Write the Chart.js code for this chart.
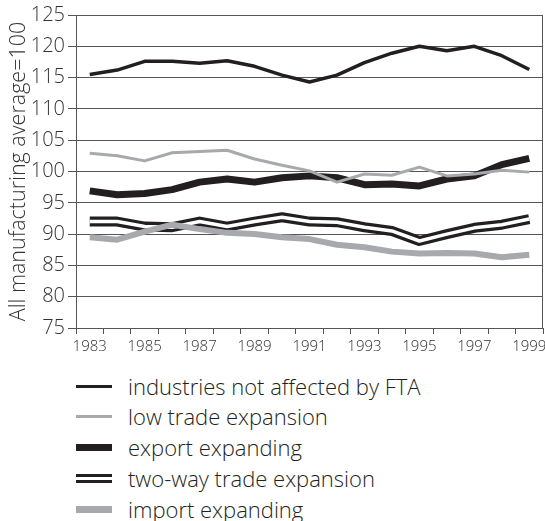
<!DOCTYPE html>
<html>
<head>
<meta charset="utf-8">
<script src="https://cdn.jsdelivr.net/npm/chart.js@4"></script>
<style>
  html, body { margin: 0; padding: 0; background: #fff; }
  #wrap { position: relative; width: 545px; height: 521px; font-family: "Open Sans", sans-serif; font-weight: 300; color: #231f20; }
  #chartBox { position: absolute; left: 0; top: 0; width: 545px; height: 365px; }
  .row { position: absolute; left: 76px; height: 30px; }
  .swatch { position: absolute; left: 0; width: 36px; }
  .label { position: absolute; left: 52px; top: 0; font-size: 22px; line-height: 30px; white-space: nowrap; }
</style>
</head>
<body>
<div id="wrap">
  <div id="chartBox"><canvas id="tradeChart"></canvas></div>
  <div id="legend"></div>
</div>
<script>
'use strict';

const years = ['1983', '1984', '1985', '1986', '1987', '1988', '1989', '1990', '1991',
  '1992', '1993', '1994', '1995', '1996', '1997', '1998', '1999'];

const notAffected = [115.5, 116.2, 117.6, 117.6, 117.3, 117.7, 116.8, 115.4, 114.3,
  115.4, 117.4, 118.9, 120.0, 119.3, 120.0, 118.5, 116.3];
const lowTrade = [102.9, 102.5, 101.7, 103.0, 103.2, 103.4, 102.0, 101.0, 100.1,
  98.3, 99.6, 99.4, 100.7, 99.3, 99.6, 100.2, 99.9];
const exportExpanding = [96.9, 96.3, 96.5, 97.1, 98.3, 98.8, 98.3, 99.0, 99.3,
  99.0, 97.9, 98.0, 97.7, 98.8, 99.3, 101.1, 102.1];
const twoWay = [92.0, 92.0, 91.2, 91.1, 92.0, 91.2, 92.0, 92.7, 92.0,
  91.9, 91.1, 90.5, 88.9, 90.0, 91.0, 91.5, 92.4];
const importExpanding = [89.5, 89.1, 90.4, 91.5, 90.8, 90.2, 90.0, 89.5, 89.2,
  88.3, 87.9, 87.2, 86.9, 87.0, 86.9, 86.3, 86.7];

const yTicks = [75, 80, 85, 90, 95, 100, 105, 110, 115, 120, 125];
const yTitle = 'All manufacturing average=100';

const BLACK = '#231f20';
const GRAY = '#a7a9ac';
const FONT = 'Open Sans';

const legendItems = [
  { text: 'industries not affected by FTA', color: BLACK, width: 3 },
  { text: 'low trade expansion', color: GRAY, width: 3 },
  { text: 'export expanding', color: BLACK, width: 7 },
  { text: 'two-way trade expansion', color: BLACK, width: 9, double: true },
  { text: 'import expanding', color: GRAY, width: 7 }
];

function lineSet(data, color, width) {
  return {
    data: data,
    borderColor: color,
    borderWidth: width,
    pointRadius: 0,
    tension: 0,
    fill: false,
    borderCapStyle: 'butt',
    borderJoinStyle: 'round'
  };
}

// box round the plot area (top and right sides included)
const frame = {
  id: 'frame',
  afterDraw(chart) {
    const a = chart.chartArea;
    const ctx = chart.ctx;
    ctx.save();
    ctx.strokeStyle = '#555';
    ctx.lineWidth = 1;
    ctx.strokeRect(Math.round(a.left) + 0.5, Math.round(a.top) + 0.5,
      Math.round(a.right - a.left) - 1, Math.round(a.bottom - a.top));
    ctx.restore();
  }
};

function renderChart() {
  const ctx = document.getElementById('tradeChart').getContext('2d');
  new Chart(ctx, {
    type: 'line',
    data: {
      labels: years,
      datasets: [
        lineSet(importExpanding, GRAY, 6),
        lineSet(lowTrade, GRAY, 3),
        lineSet(notAffected, BLACK, 3.5),
        lineSet(twoWay, '#fff', 3.5),
        lineSet(twoWay, BLACK, 10),
        lineSet(exportExpanding, BLACK, 7)
      ]
    },
    options: {
      responsive: true,
      maintainAspectRatio: false,
      animation: false,
      layout: { padding: { top: 15, right: 2, left: 0, bottom: 0 } },
      plugins: { legend: { display: false }, tooltip: { enabled: false } },
      scales: {
        x: {
          offset: true,
          grid: { offset: true, drawOnChartArea: false, drawTicks: true, tickLength: 6, color: '#555' },
          border: { color: '#555' },
          ticks: {
            autoSkip: false,
            maxRotation: 0,
            padding: 4,
            color: '#333',
            font: { family: FONT, size: 15, weight: 300 },
            callback: function(val, i) { return i % 2 === 0 ? years[i] : ''; }
          },
          afterFit: function(s) {
            s.height = 37;
            s.paddingLeft = 0;
            s.paddingRight = 0;
          }
        },
        y: {
          min: 75,
          max: 125,
          afterBuildTicks: function(s) { s.ticks = yTicks.map(v => ({ value: v })); },
          grid: { color: '#555', lineWidth: 1, tickLength: 8 },
          border: { color: '#555' },
          ticks: {
            padding: 3,
            color: '#333',
            font: { family: FONT, size: 20, weight: 300 }
          },
          title: {
            display: true,
            text: yTitle,
            color: '#333',
            padding: { top: 6, bottom: 0 },
            font: { family: FONT, size: 21.5, weight: 300 }
          },
          afterFit: function(s) { s.width = 76; }
        }
      }
    },
    plugins: [frame]
  });
}

function renderLegend() {
  const legendElem = document.getElementById('legend');
  const rowTops = [371, 401, 432, 463, 494];
  legendItems.forEach((item, i) => {
    const row = document.createElement('div');
    row.className = 'row';
    row.style.top = rowTops[i] + 'px';
    const sw = document.createElement('div');
    sw.className = 'swatch';
    sw.style.top = (15 - item.width / 2) + 'px';
    sw.style.height = item.width + 'px';
    sw.style.background = item.color;
    if (item.double) {
      sw.style.background = 'linear-gradient(' + BLACK + ' 0 3px, #fff 3px 6px, ' + BLACK + ' 6px 9px)';
    }
    const txt = document.createElement('div');
    txt.className = 'label';
    txt.textContent = item.text;
    row.appendChild(sw);
    row.appendChild(txt);
    legendElem.appendChild(row);
  });
}

renderChart();
renderLegend();
</script>
</body>
</html>
